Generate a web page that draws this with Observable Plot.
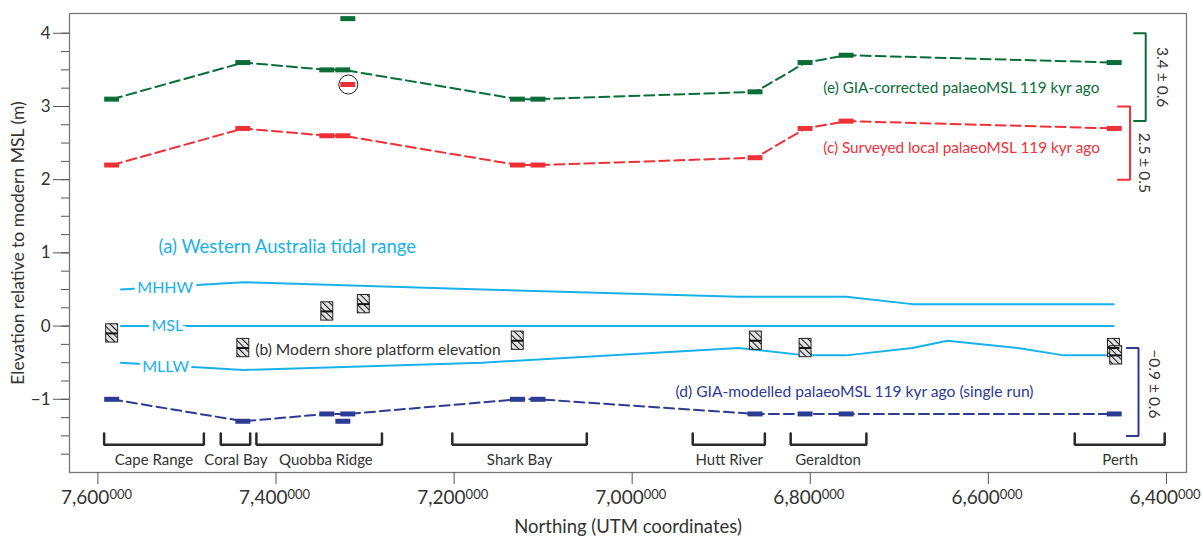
<!DOCTYPE html>
<html><head><meta charset="utf-8">
<script src="https://cdn.jsdelivr.net/npm/d3@7"></script>
<script src="https://cdn.jsdelivr.net/npm/@observablehq/plot@0.6"></script>
<style>
body{margin:0;background:#fff;}
#chart svg{display:block;}
</style></head><body><div id="chart"></div>
<script>
// ---- data ----
const siteNorthing   = [7584000, 7436700, 7342400, 7324400, 7318800, 7128300, 7105300, 6861500, 6805300, 6759200, 6458100];
const giaCorrected   = [3.1, 3.6, 3.5, 3.5, 4.2, 3.1, 3.1, 3.2, 3.6, 3.7, 3.6];
const surveyedLocal  = [2.2, 2.7, 2.6, 2.6, 3.3, 2.2, 2.2, 2.3, 2.7, 2.8, 2.7];
const giaModelled    = [-1.0, -1.3, -1.2, -1.3, -1.2, -1.0, -1.0, -1.2, -1.2, -1.2, -1.2];
const palaeoOnLine   = [true, true, true, true, false, true, true, true, true, true, true];
const modelledOnLine = [true, true, true, false, true, true, true, true, true, true, true];
const circledSite    = [4];

const platformNorthing  = [7584000, 7436700, 7342400, 7301400, 7128500, 6861100, 6805300, 6459000, 6456500];
const platformElevation = [-0.1, -0.3, 0.2, 0.3, -0.2, -0.2, -0.3, -0.3, -0.4];

const mhhwNorthing = [7574200, 7436700, 7168500, 6880200, 6759500, 6685400, 6459200];
const mhhwLevel    = [0.5, 0.6, 0.5, 0.4, 0.4, 0.3, 0.3];
const mslNorthing  = [7574200, 7436700, 7168500, 6459200];
const mslLevel     = [0, 0, 0, 0];
const mllwNorthing = [7574200, 7436700, 7168500, 6880200, 6805000, 6759500, 6685400, 6646000, 6567000, 6515000, 6459200];
const mllwLevel    = [-0.5, -0.6, -0.5, -0.3, -0.4, -0.4, -0.3, -0.2, -0.3, -0.4, -0.4];

const regionNames  = ["Cape Range", "Coral Bay", "Quobba Ridge", "Shark Bay", "Hutt River", "Geraldton", "Perth"];
const regionStart  = [7593000, 7462000, 7422000, 7202000, 6932000, 6822000, 6503000];
const regionEnd    = [7481000, 7429000, 7281000, 7051000, 6851000, 6737000, 6402000];
const regionLabelN = [7537000, 7445000, 7344000, 7126500, 6891000, 6780000, 6452000];

const summaryNames = ["corrected", "surveyed", "modelled"];
const summaryMean  = [3.4, 2.5, -0.9];
const summaryErr   = [0.6, 0.5, 0.6];
const summaryText  = ["3.4 ± 0.6", "2.5 ± 0.5", "−0.9 ± 0.6"];

const xTicks = [7600000, 7400000, 7200000, 7000000, 6800000, 6600000, 6400000];
const yMajor = [-1, 0, 1, 2, 3, 4];
const yMinor = d3.range(-1.75, 4.01, 0.25);

// ---- styles ----
const GREEN = "#0b6d38", RED = "#ee3138", BLUE = "#2d3b94", CYAN = "#19b1e9", INK = "#333";
const BAR_HALF = 8400, BOX_HALF = 6700;

// ---- tables ----
const sites = siteNorthing.map((n, i) => ({n, e: giaCorrected[i], c: surveyedLocal[i], d: giaModelled[i], onP: palaeoOnLine[i], onM: modelledOnLine[i]}));
const platforms = platformNorthing.map((n, i) => ({n, v: platformElevation[i]}));
const mk = (ns, vs) => ns.map((n, i) => ({n, v: vs[i]}));
const mhhw = mk(mhhwNorthing, mhhwLevel), msl = mk(mslNorthing, mslLevel), mllw = mk(mllwNorthing, mllwLevel);

const bracketY = [-1.466, -1.62];
const regionPts = regionNames.flatMap((name, i) => [
  {name, n: regionStart[i], v: bracketY[0]},
  {name, n: regionStart[i], v: bracketY[1]},
  {name, n: regionEnd[i], v: bracketY[1]},
  {name, n: regionEnd[i], v: bracketY[0]}
]);
const regionLabels = regionNames.map((name, i) => ({name, n: regionLabelN[i]}));

// right-hand summary brackets (x placement in northing units)
const sumColor = [GREEN, RED, BLUE];
const sumXV   = [6423300, 6440900, 6431400];
const sumXCap = [6436400, 6454400, 6444600];
const sumXTxt = [6404500, 6425200, 6413900];
const sumYTxt = [3.4, 2.23, -0.79];
const sumPts = summaryNames.flatMap((name, i) => {
  const top = summaryMean[i] + summaryErr[i], bot = summaryMean[i] - summaryErr[i];
  return [
    {name, n: sumXCap[i], v: top, col: sumColor[i]},
    {name, n: sumXV[i], v: top, col: sumColor[i]},
    {name, n: sumXV[i], v: bot, col: sumColor[i]},
    {name, n: sumXCap[i], v: bot, col: sumColor[i]}
  ];
});
const sumLabels = summaryText.map((t, i) => ({t, n: sumXTxt[i], v: sumYTxt[i]}));

const hatchDefs = () => {
  const ns = "http://www.w3.org/2000/svg";
  const defs = document.createElementNS(ns, "defs");
  defs.innerHTML = `<pattern id="hatch" patternUnits="userSpaceOnUse" width="4.6" height="4.6" patternTransform="rotate(-45)">
    <rect width="4.6" height="4.6" fill="#e4e4e4"></rect>
    <line x1="0.5" y1="0" x2="0.5" y2="4.6" stroke="#111" stroke-width="1"></line></pattern>`;
  return defs;
};

const fmt = d3.format(",");
const yFmt = d => d < 0 ? "−" + Math.abs(d) : String(d);
const dash = "10,5";

const chart = Plot.plot({
  width: 1203, height: 538,
  marginLeft: 69, marginRight: 17, marginTop: 13, marginBottom: 66,
  style: {fontFamily: "Lato, 'Noto Sans', sans-serif", color: INK, background: "#fff", overflow: "visible"},
  x: {domain: [7631900, 6377500], axis: null},
  y: {domain: [-2, 4.27], axis: null},
  marks: [
    hatchDefs,
    Plot.frame({stroke: "#777", strokeWidth: 1.3}),
    Plot.axisY(yMinor, {anchor: "left", tickSize: 8, tickFormat: () => "", label: null, stroke: "#555"}),
    Plot.axisY(yMajor, {anchor: "left", tickSize: 16, tickPadding: 3, fontSize: 17, label: null, stroke: "#555", fill: INK, tickFormat: yFmt}),
    Plot.axisX(xTicks, {anchor: "bottom", tickSize: 12, tickFormat: () => "", label: null, stroke: "#555"}),
    Plot.text(xTicks, {x: d => d, frameAnchor: "bottom", dy: 31, text: d => fmt(d / 1000), textAnchor: "end", dx: 11.5, fontSize: 19, fill: INK}),
    Plot.text(xTicks, {x: d => d, frameAnchor: "bottom", dy: 26, text: () => "000", textAnchor: "start", dx: 11.5, fontSize: 13, fill: INK}),
    Plot.text(["Northing (UTM coordinates)"], {frameAnchor: "bottom", dy: 60, lineAnchor: "bottom", fontSize: 18.5, fill: INK}),
    Plot.text(["Elevation relative to modern MSL (m)"], {frameAnchor: "left", dx: -51, rotate: -90, textAnchor: "middle", fontSize: 17.5, fill: INK}),

    // region brackets
    Plot.line(regionPts, {x: "n", y: "v", z: "name", stroke: "#2a2a2a", strokeWidth: 2.5, strokeLinejoin: "miter"}),
    Plot.text(regionLabels, {x: "n", y: -1.83, text: "name", fontSize: 15, fill: INK}),

    // tidal range
    Plot.line(mhhw, {x: "n", y: "v", stroke: CYAN, strokeWidth: 2}),
    Plot.line(msl, {x: "n", y: "v", stroke: CYAN, strokeWidth: 2}),
    Plot.line(mllw, {x: "n", y: "v", stroke: CYAN, strokeWidth: 2}),
    Plot.text(["MHHW"], {x: 7524400, y: 0.52, fill: CYAN, fontSize: 16, stroke: "white", strokeWidth: 8, paintOrder: "stroke"}),
    Plot.text(["MSL"], {x: 7522000, y: 0, fill: CYAN, fontSize: 16, stroke: "white", strokeWidth: 8, paintOrder: "stroke"}),
    Plot.text(["MLLW"], {x: 7524000, y: -0.56, fill: CYAN, fontSize: 16, stroke: "white", strokeWidth: 8, paintOrder: "stroke"}),
    Plot.text(["(a) Western Australia tidal range"], {x: 7531900, y: 1.075, textAnchor: "start", fill: CYAN, fontSize: 18.5}),

    // shore platforms
    Plot.rect(platforms, {x1: d => d.n + BOX_HALF, x2: d => d.n - BOX_HALF, y1: d => d.v - 0.125, y2: d => d.v + 0.125, fill: "url(#hatch)", stroke: "#222", strokeWidth: 1}),
    Plot.ruleY(platforms, {x1: d => d.n + BOX_HALF, x2: d => d.n - BOX_HALF, y: "v", stroke: "#111", strokeWidth: 2}),
    Plot.text(["(b) Modern shore platform elevation"], {x: 7423300, y: -0.326, textAnchor: "start", fill: INK, fontSize: 15.6}),

    // palaeo sea levels
    Plot.line(sites.filter(d => d.onP), {x: "n", y: "e", stroke: GREEN, strokeWidth: 2, strokeDasharray: dash}),
    Plot.line(sites.filter(d => d.onP), {x: "n", y: "c", stroke: RED, strokeWidth: 2, strokeDasharray: dash}),
    Plot.line(sites.filter(d => d.onM), {x: "n", y: "d", stroke: BLUE, strokeWidth: 2, strokeDasharray: dash}),
    Plot.ruleY(sites, {x1: d => d.n + BAR_HALF, x2: d => d.n - BAR_HALF, y: "e", stroke: GREEN, strokeWidth: 5}),
    Plot.ruleY(sites, {x1: d => d.n + BAR_HALF, x2: d => d.n - BAR_HALF, y: "c", stroke: RED, strokeWidth: 5}),
    Plot.ruleY(sites, {x1: d => d.n + BAR_HALF, x2: d => d.n - BAR_HALF, y: "d", stroke: BLUE, strokeWidth: 5}),
    Plot.dot(circledSite, {x: i => siteNorthing[i], y: i => surveyedLocal[i], r: 9.5, stroke: "#222", strokeWidth: 1, fill: "none"}),
    Plot.text(["(e) GIA-corrected palaeoMSL 119 kyr ago"], {x: 6785400, y: 3.25, textAnchor: "start", fill: GREEN, fontSize: 15.3}),
    Plot.text(["(c) Surveyed local palaeoMSL 119 kyr ago"], {x: 6785400, y: 2.43, textAnchor: "start", fill: RED, fontSize: 15.3}),
    Plot.text(["(d) GIA-modelled palaeoMSL 119 kyr ago (single run)"], {x: 6951300, y: -0.906, textAnchor: "start", fill: BLUE, fontSize: 15.6}),

    // summary brackets
    Plot.line(sumPts, {x: "n", y: "v", z: "name", stroke: "col", strokeWidth: 2, strokeLinejoin: "miter"}),
    Plot.text(sumLabels, {x: "n", y: "v", text: "t", rotate: 90, fontSize: 15.5, fill: INK})
  ]
});
document.getElementById("chart").appendChild(chart);
</script></body></html>
